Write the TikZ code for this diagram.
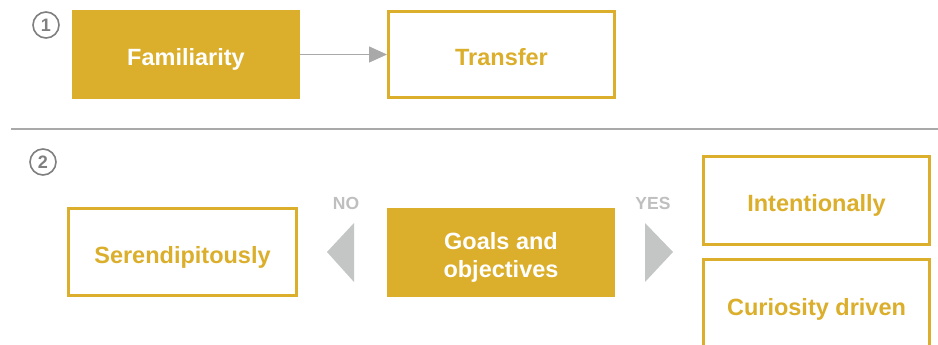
\documentclass[tikz,border=0pt]{standalone}
\usepackage{fontspec}
\setmainfont{Liberation Sans}
\usetikzlibrary{arrows.meta}
\definecolor{gold}{HTML}{DBAE2B}
\definecolor{sepgray}{HTML}{A9A9A9}
\definecolor{trigray}{HTML}{C4C5C5}
\definecolor{numgray}{HTML}{7F7F7F}
\definecolor{lblgray}{HTML}{BFBFBF}
\begin{document}
\begin{tikzpicture}[x=1pt,y=-1pt,
  boxfont/.style={font=\fontsize{23.5}{28}\selectfont\bfseries},
  oneline/.style={text height=17pt,text depth=5pt,yshift=-5pt},
  whitetext/.style={text=white,boxfont,align=center,inner sep=0pt},
  goldtext/.style={text=gold,boxfont,align=center,inner sep=0pt},
  filledbox/.style={rectangle,fill=gold,draw=none,inner sep=0pt,outer sep=0pt},
  openbox/.style={rectangle,draw=gold,line width=3pt,fill=white,inner sep=0pt},
  numcirc/.style={circle,draw=numgray,line width=1.6pt,text=numgray,font=\fontsize{18}{18}\selectfont\bfseries,minimum size=26pt,inner sep=0pt},
  yesno/.style={text=lblgray,font=\fontsize{17.5}{18}\selectfont\bfseries,inner sep=0pt},
  tri/.style={fill=trigray,draw=none}
]
\useasboundingbox (0,0) rectangle (938,345);
\fill[white] (0,0) rectangle (938,345);

% section 1
\node[numcirc] (n1) at (46,25) {1};
\node[filledbox,minimum width=228pt,minimum height=89pt,label={[whitetext,oneline]center:Familiarity}] (fam) at (186,54.5) {};
\node[openbox,minimum width=226pt,minimum height=86pt,label={[goldtext,oneline]center:Transfer}] (tra) at (501.5,54.5) {};
\draw[sepgray,line width=1.2pt,-{Triangle[length=18pt,width=16pt]}] (fam.east) -- (tra.west);

% separator
\coordinate (sepL) at (11,129);
\coordinate (sepR) at (938,129);
\draw[sepgray,line width=2.5pt] (sepL) -- (sepR);

% section 2
\node[numcirc] (n2) at (43,162) {2};
\node[openbox,minimum width=228pt,minimum height=87pt,label={[goldtext,oneline]center:Serendipitously}] (ser) at (182.5,252) {};
\node[filledbox,minimum width=228pt,minimum height=89pt,label={[whitetext,yshift=-4.5pt]center:Goals and\\objectives}] (goa) at (501,252.5) {};
\node[openbox,minimum width=226pt,minimum height=88pt,label={[goldtext,oneline]center:Intentionally}] (int) at (816.5,200.5) {};
\draw[gold,line width=3pt,fill=white] (703.5,259.5) rectangle (929.5,370);
\node[goldtext,oneline] (cur) at (816.5,304.7) {Curiosity driven};

% NO triangle
\coordinate (lt) at (327,252);
\fill[tri] (lt) -- (354,223) -- (354,282) -- cycle;
\node[yesno] (no) at (346,203) {NO};
% YES triangle
\coordinate (rt) at (673,252);
\fill[tri] (rt) -- (645,223) -- (645,282) -- cycle;
\node[yesno] (yes) at (653,203) {YES};
\end{tikzpicture}
\end{document}
